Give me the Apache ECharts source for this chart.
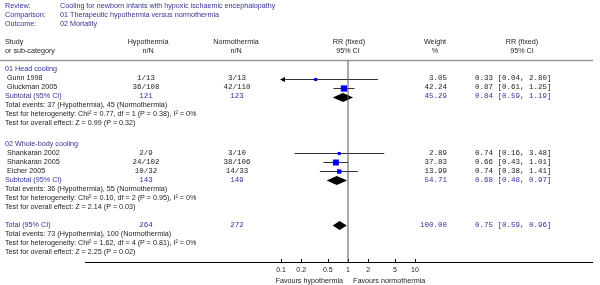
<!DOCTYPE html>
<html>
<head>
<meta charset="utf-8">
<script src="https://cdn.jsdelivr.net/npm/echarts@6/dist/echarts.min.js"></script>
<style>
  html, body { margin: 0; padding: 0; background: #fff; }
  #chart { width: 600px; height: 285px; }
</style>
</head>
<body>
<div id="chart"></div>
<script>
// header
const reviewTitle = 'Cooling for newborn infants with hypoxic ischaemic encephalopathy';
const comparisonTitle = '01 Therapeutic hypothermia versus normothermia';
const outcomeTitle = '02 Mortality';

// studies
const groupNames = ['01 Head cooling', '02 Whole-body cooling'];
const studyGroup = [0, 0, 1, 1, 1];
const studyNames = ['Gunn 1998', 'Gluckman 2005', 'Shankaran 2002', 'Shankaran 2005', 'Eicher 2005'];
const hypoEvents = [1, 36, 2, 24, 10];
const hypoTotal = [13, 108, 9, 102, 32];
const normoEvents = [3, 42, 3, 38, 14];
const normoTotal = [13, 110, 10, 106, 33];
const studyWeight = ['3.05', '42.24', '2.89', '37.83', '13.99'];
const studyRR = [0.33, 0.87, 0.74, 0.66, 0.74];
const studyLow = [0.04, 0.61, 0.16, 0.43, 0.38];
const studyHigh = [2.80, 1.25, 3.48, 1.01, 1.41];

// subtotals per group
const subHypoTotal = [121, 143];
const subNormoTotal = [123, 149];
const subHypoEvents = [37, 36];
const subNormoEvents = [45, 55];
const subWeight = ['45.29', '54.71'];
const subRR = [0.84, 0.68];
const subLow = [0.59, 0.48];
const subHigh = [1.19, 0.97];
const subChi = ['0.77', '0.10'];
const subDf = [1, 2];
const subHetP = ['0.38', '0.95'];
const subZ = ['0.99', '2.14'];
const subP = ['0.32', '0.03'];

// overall
const totalHypo = 264, totalNormo = 272;
const totalHypoEvents = 73, totalNormoEvents = 100;
const totalWeight = '100.00';
const totalRR = 0.75, totalLow = 0.59, totalHigh = 0.96;
const totalChi = '1.62', totalDf = 4, totalHetP = '0.81', totalZ = '2.25', totalP = '0.02';

const tickValues = [0.1, 0.2, 0.5, 1, 2, 5, 10];

// layout
const BLUE = '#333399';
const DARK = '#222';
const SANS = '7.2px "Liberation Sans", Arial, sans-serif';
const MONO = '7.5px "Liberation Mono", "Courier New", monospace';
const rowY = r => 6.5 + 9 * r;
const groupStart = [7, 15.25];
const totalStart = 24.3;
const axisY = 262;

const fmt = v => v.toFixed(2);
const ciText = (rr, lo, hi) => fmt(rr) + ' [' + fmt(lo) + ', ' + fmt(hi) + ']';

const graphics = [];
function txt(x, r, text, opts) {
  opts = opts || {};
  graphics.push({
    type: 'text', silent: true,
    style: {
      x: x, y: opts.py !== undefined ? opts.py : rowY(r), text: text,
      font: opts.font || SANS, fill: opts.color || DARK,
      align: opts.align || 'left', verticalAlign: 'middle'
    }
  });
}

txt(5, 0, 'Review:', { color: BLUE });
txt(60, 0, reviewTitle, { color: BLUE });
txt(5, 1, 'Comparison:', { color: BLUE });
txt(60, 1, comparisonTitle, { color: BLUE });
txt(5, 2, 'Outcome:', { color: BLUE });
txt(60, 2, outcomeTitle, { color: BLUE });

txt(5, 4, 'Study');
txt(5, 5, 'or sub-category');
txt(148, 4, 'Hypothermia', { align: 'center' });
txt(148, 5, 'n/N', { align: 'center' });
txt(236, 4, 'Normothermia', { align: 'center' });
txt(236, 5, 'n/N', { align: 'center' });
txt(349, 4, 'RR (fixed)', { align: 'center' });
txt(348, 5, '95% CI', { align: 'center' });
txt(435, 4, 'Weight', { align: 'center' });
txt(435, 5, '%', { align: 'center' });
txt(522, 4, 'RR (fixed)', { align: 'center' });
txt(522, 5, '95% CI', { align: 'center' });

graphics.push({
  type: 'line', silent: true,
  shape: { x1: 0, y1: 60.5, x2: 593, y2: 60.5 },
  style: { stroke: '#9a9a9a', lineWidth: 1.5 }
});
graphics.push({
  type: 'line', silent: true,
  shape: { x1: 85, y1: axisY + 0.5, x2: 593, y2: axisY + 0.5 },
  style: { stroke: '#000', lineWidth: 1 }
});

const studyData = [];
const diamondData = [];

function summaryRows(r, label, hTot, nTot, w, rr, lo, hi, hEv, nEv, chi, df, hp, z, p) {
  txt(5, r, label, { color: BLUE });
  txt(146, r, String(hTot), { font: MONO, color: BLUE, align: 'center' });
  txt(237, r, String(nTot), { font: MONO, color: BLUE, align: 'center' });
  txt(447, r, w, { font: MONO, color: BLUE, align: 'right' });
  txt(475, r, ciText(rr, lo, hi), { font: MONO, color: BLUE });
  txt(5, r + 1, 'Total events: ' + hEv + ' (Hypothermia), ' + nEv + ' (Normothermia)');
  txt(5, r + 2, 'Test for heterogeneity: Chi\u00b2 = ' + chi + ', df = ' + df + ' (P = ' + hp + '), I\u00b2 = 0%');
  txt(5, r + 3, 'Test for overall effect: Z = ' + z + ' (P = ' + p + ')');
  diamondData.push([rr, lo, hi, r]);
}

groupNames.forEach((g, gi) => {
  let r = groupStart[gi];
  txt(5, r, g, { color: BLUE });
  studyNames.forEach((name, i) => {
    if (studyGroup[i] !== gi) return;
    r += 1;
    txt(7, r, name);
    txt(146, r, hypoEvents[i] + '/' + hypoTotal[i], { font: MONO, align: 'center' });
    txt(237, r, normoEvents[i] + '/' + normoTotal[i], { font: MONO, align: 'center' });
    txt(447, r, studyWeight[i], { font: MONO, align: 'right' });
    txt(475, r, ciText(studyRR[i], studyLow[i], studyHigh[i]), { font: MONO });
    studyData.push([studyRR[i], studyLow[i], studyHigh[i], r, parseFloat(studyWeight[i])]);
  });
  summaryRows(r + 1, 'Subtotal (95% CI)', subHypoTotal[gi], subNormoTotal[gi], subWeight[gi],
    subRR[gi], subLow[gi], subHigh[gi], subHypoEvents[gi], subNormoEvents[gi],
    subChi[gi], subDf[gi], subHetP[gi], subZ[gi], subP[gi]);
});

summaryRows(totalStart, 'Total (95% CI)', totalHypo, totalNormo, totalWeight,
  totalRR, totalLow, totalHigh, totalHypoEvents, totalNormoEvents,
  totalChi, totalDf, totalHetP, totalZ, totalP);

txt(343, 0, 'Favours hypothermia', { align: 'right', py: 281 });
txt(353, 0, 'Favours normothermia', { align: 'left', py: 281 });

const xMin = tickValues[0], xMax = tickValues[tickValues.length - 1];
const rowMin = -6.5 / 9, rowMax = (axisY - 6.5) / 9;

const chart = echarts.init(document.getElementById('chart'), null, { renderer: 'canvas' });
chart.setOption({
  animation: false,
  backgroundColor: '#fff',
  grid: { left: 281, width: 134, top: 0, height: axisY },
  xAxis: {
    type: 'log', logBase: 10, min: xMin, max: xMax, position: 'bottom',
    axisLine: { show: false, onZero: false },
    splitLine: { show: false },
    axisTick: { show: true, inside: true, length: 3, customValues: tickValues, lineStyle: { color: '#000' } },
    axisLabel: {
      customValues: tickValues, margin: 5, fontSize: 7, color: DARK,
      fontFamily: '"Liberation Sans", Arial, sans-serif',
      formatter: v => String(v)
    }
  },
  yAxis: { type: 'value', inverse: true, min: rowMin, max: rowMax, show: false },
  series: [
    {
      type: 'line', silent: true, symbol: 'none',
      data: [[1, (60.5 - 6.5) / 9], [1, rowMax]],
      lineStyle: { color: '#555', width: 1 }
    },
    {
      type: 'custom', silent: true, clip: false,
      data: studyData,
      renderItem: (params, api) => {
        const rr = api.value(0), lo = api.value(1), hi = api.value(2), r = api.value(3), w = api.value(4);
        const c = api.coord([rr, r]);
        const a = api.coord([Math.max(lo, xMin), r]);
        const b = api.coord([Math.min(hi, xMax), r]);
        const y = Math.round(c[1]) + 0.5;
        const s = 2 + 0.65 * Math.sqrt(w);
        const children = [
          { type: 'line', shape: { x1: a[0], y1: y, x2: b[0], y2: y }, style: { stroke: '#333', lineWidth: 1 } }
        ];
        if (lo < xMin) {
          children.push({ type: 'polygon', shape: { points: [[a[0] - 1, y], [a[0] + 4, y - 2.5], [a[0] + 4, y + 2.5]] }, style: { fill: '#000' } });
        }
        children.push({ type: 'rect', shape: { x: c[0] - s / 2, y: y - s / 2, width: s, height: s }, style: { fill: '#0000ee' } });
        return { type: 'group', children: children };
      }
    },
    {
      type: 'custom', silent: true, clip: false,
      data: diamondData,
      renderItem: (params, api) => {
        const c = api.coord([api.value(0), api.value(3)]);
        const a = api.coord([api.value(1), api.value(3)]);
        const b = api.coord([api.value(2), api.value(3)]);
        const y = Math.round(c[1]) + 0.5;
        return {
          type: 'polygon',
          shape: { points: [[a[0], y], [c[0], y - 4.5], [b[0], y], [c[0], y + 4.5]] },
          style: { fill: '#000' }
        };
      }
    }
  ],
  graphic: graphics
});
</script>
</body>
</html>
